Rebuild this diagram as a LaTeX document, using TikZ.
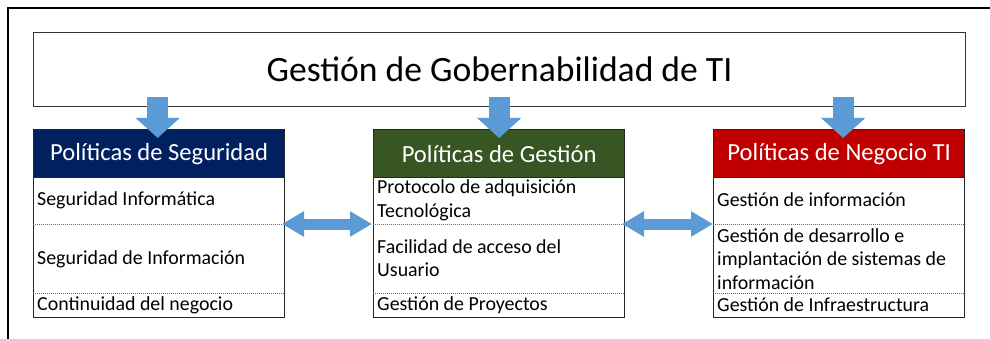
\documentclass[tikz,border=0pt]{standalone}
\usepackage{fontspec}
\setmainfont{Carlito}
\usetikzlibrary{arrows.meta}
\definecolor{navyh}{HTML}{002060}
\definecolor{greenh}{HTML}{375623}
\definecolor{redh}{HTML}{C00000}
\definecolor{arrowblue}{HTML}{5B9BD5}
\begin{document}
\begin{tikzpicture}[x=1pt,y=-1pt,
  boxframe/.style={draw=black!85, line width=1.3pt, minimum width=251pt, minimum height=188pt, anchor=north west, inner sep=0pt},
  headbox/.style={fill=#1, draw=black!85, line width=1.3pt, minimum width=251pt, minimum height=48pt, anchor=north west, inner sep=0pt, text=white, font=\fontsize{24.6}{28}\selectfont},
  itemtxt/.style={anchor=west, inner sep=0pt, font=\fontsize{19.9}{23.5}\selectfont, align=left},
  divider/.style={draw=black!60, dash pattern=on 1.2pt off 0.8pt, line width=0.6pt},
  fatdown/.style={arrowblue, line width=21pt, -{Triangle[width=43pt, length=20pt]}},
  fatboth/.style={arrowblue, line width=11pt, {Triangle[width=24pt, length=22pt]}-{Triangle[width=24pt, length=22pt]}}
]
\useasboundingbox (0,0) rectangle (990,339);
\fill[white] (0,0) rectangle (990,339);
% outer frame
\coordinate (fbl) at (8,339);
\coordinate (ftl) at (8,8);
\coordinate (ftr) at (990,8);
\draw[line width=2pt] (fbl) -- (ftl) -- (ftr);

% top box
\node[draw=black!80, line width=1pt, minimum width=932pt, minimum height=74pt, anchor=north west, inner sep=0pt,
  font=\fontsize{35.6}{40}\selectfont] (top) at (33,32) {Gestión de Gobernabilidad de TI};

% left column
\node[boxframe] (L) at (33,129) {};
\node[headbox=navyh] (Lh) at (33,129) {Políticas de Seguridad};
\coordinate (Ld1) at (33,224); \coordinate (Ld1e) at (284,224);
\coordinate (Ld2) at (33,293); \coordinate (Ld2e) at (284,293);
\draw[divider] (Ld1) -- (Ld1e);
\draw[divider] (Ld2) -- (Ld2e);
\node[itemtxt] (L1) at (37,200) {Seguridad Informática};
\node[itemtxt] (L2) at (37,259) {Seguridad de Información};
\node[itemtxt] (L3) at (37,305) {Continuidad del negocio};

% middle column
\node[boxframe] (M) at (373,129) {};
\node[headbox=greenh] (Mh) at (373,129) {Políticas de Gestión};
\coordinate (Md1) at (373,224); \coordinate (Md1e) at (624,224);
\coordinate (Md2) at (373,293); \coordinate (Md2e) at (624,293);
\draw[divider] (Md1) -- (Md1e);
\draw[divider] (Md2) -- (Md2e);
\node[itemtxt] (M1) at (377,200.5) {Protocolo de adquisición\\Tecnológica};
\node[itemtxt] (M2) at (377,258) {Facilidad de acceso del\\Usuario};
\node[itemtxt] (M3) at (377,305) {Gestión de Proyectos};

% right column
\node[boxframe] (R) at (713,129) {};
\node[headbox=redh] (Rh) at (713,129) {Políticas de Negocio TI};
\coordinate (Rd1) at (713,224); \coordinate (Rd1e) at (965,224);
\coordinate (Rd2) at (713,293); \coordinate (Rd2e) at (965,293);
\draw[divider] (Rd1) -- (Rd1e);
\draw[divider] (Rd2) -- (Rd2e);
\node[itemtxt] (R1) at (717,200) {Gestión de información};
\node[itemtxt] (R2) at (717,259) {Gestión de desarrollo e\\implantación de sistemas de\\información};
\node[itemtxt] (R3) at (717,305) {Gestión de Infraestructura};

% down arrows
\draw[fatdown] ([xshift=-1.5pt,yshift=10pt]top.south -| Lh.north) -- ([xshift=-1.5pt,yshift=-9pt]Lh.north);
\draw[fatdown] ([yshift=10pt]top.south -| Mh.north) -- ([yshift=-9pt]Mh.north);
\draw[fatdown] ([xshift=4pt,yshift=10pt]top.south -| Rh.north) -- ([xshift=4pt,yshift=-9pt]Rh.north);

% double arrows
\draw[fatboth] ([xshift=-2pt]Ld1e) -- ([xshift=-1pt]Md1);
\draw[fatboth] ([xshift=-2pt]Md1e) -- (Rd1);
\end{tikzpicture}
\end{document}
